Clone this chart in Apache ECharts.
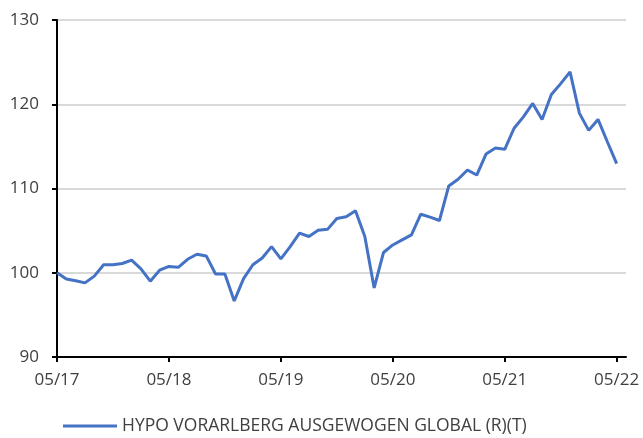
<!DOCTYPE html>
<html>
<head>
<meta charset="utf-8">
<script src="https://cdn.jsdelivr.net/npm/echarts@6/dist/echarts.min.js"></script>
<style>
  html, body { margin: 0; padding: 0; background: #fff; }
  #chart { width: 643px; height: 438px; }
</style>
</head>
<body>
<div id="chart"></div>
<script>
// Monthly index values, May 2017 to May 2022 (start = 100)
const seriesName = 'HYPO VORARLBERG AUSGEWOGEN GLOBAL (R)(T)';
const values = [
  100.0, 99.25, 99.05, 98.8, 99.6, 100.95, 100.95, 101.1, 101.5, 100.45,
  99.0, 100.3, 100.75, 100.65, 101.6, 102.2, 102.0, 99.85, 99.85, 96.65,
  99.3, 100.95, 101.75, 103.1, 101.65, 103.1, 104.7, 104.3, 105.05, 105.15,
  106.45, 106.65, 107.35, 104.3, 98.2, 102.4, 103.3, 103.9, 104.5, 106.95,
  106.6, 106.2, 110.3, 111.1, 112.2, 111.6, 114.1, 114.8, 114.65, 117.15,
  118.5, 120.1, 118.2, 121.15, 122.45, 123.85, 118.95, 116.9, 118.2, 115.55,
  112.95
];
// Axis labels shown once a year
const tickLabels = ['05/17', '05/18', '05/19', '05/20', '05/21', '05/22'];
const yTicks = [90, 100, 110, 120, 130];

// Month categories (MM/YY), one extra month after the last value
const months = [];
for (let i = 0; i < values.length + 1; i++) {
  const m = (4 + i) % 12 + 1;
  const y = 17 + Math.floor((4 + i) / 12);
  months.push(String(m).padStart(2, '0') + '/' + y);
}

const font = 'Open Sans';
const textColor = '#404040';

const chart = echarts.init(document.getElementById('chart'));
chart.setOption({
  animation: false,
  grid: { left: 57, right: 17, top: 20, bottom: 81 },
  xAxis: {
    type: 'category',
    data: months,
    boundaryGap: false,
    axisLine: { lineStyle: { color: '#000', width: 2 } },
    axisTick: {
      show: true, length: 5, lineStyle: { color: '#000', width: 2 },
      interval: (i, v) => tickLabels.indexOf(v) >= 0
    },
    axisLabel: {
      interval: (i, v) => tickLabels.indexOf(v) >= 0,
      color: textColor, fontFamily: font, fontSize: 17, margin: 15
    },
    splitLine: { show: false }
  },
  yAxis: {
    type: 'value',
    min: yTicks[0], max: yTicks[yTicks.length - 1], interval: 10,
    axisLine: { show: true, lineStyle: { color: '#000', width: 2 } },
    axisTick: { show: true, length: 5, lineStyle: { color: '#000', width: 2 } },
    axisLabel: { color: textColor, fontFamily: font, fontSize: 17, margin: 18 },
    splitLine: { show: true, lineStyle: { color: '#d9d9d9', width: 2 } }
  },
  legend: {
    top: 416, left: 58, padding: [0, 5],
    itemWidth: 54, itemHeight: 3, itemGap: 6,
    icon: 'rect',
    textStyle: { color: textColor, fontFamily: font, fontSize: 17.5, lineHeight: 20 },
    data: [seriesName]
  },
  series: [{
    name: seriesName,
    type: 'line',
    data: values,
    symbol: 'none',
    lineStyle: { color: '#4472C4', width: 3 },
    itemStyle: { color: '#4472C4' }
  }]
});
</script>
</body>
</html>
